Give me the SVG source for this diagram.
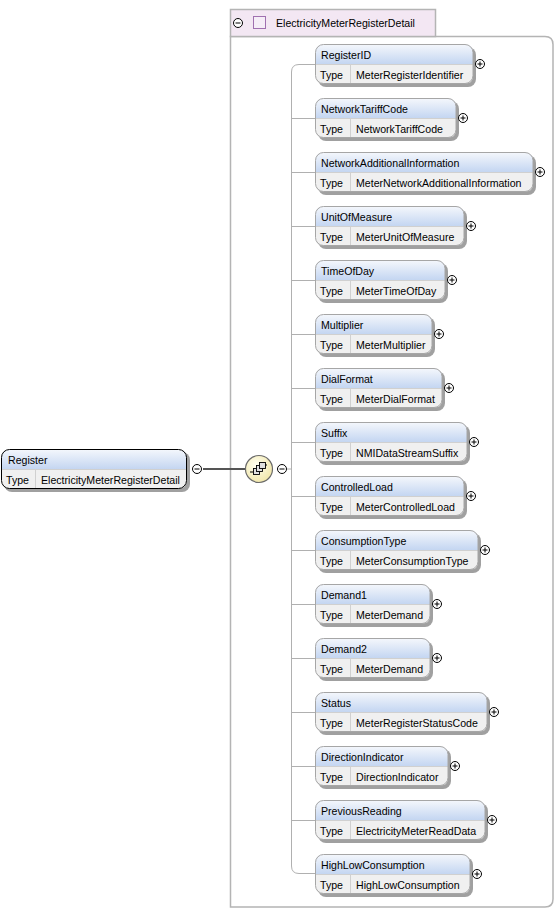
<svg xmlns="http://www.w3.org/2000/svg" width="556" height="910" viewBox="0 0 556 910">
<defs>
<linearGradient id="hdr" x1="0" y1="0" x2="0" y2="1">
<stop offset="0" stop-color="#f4f7fc"/>
<stop offset="1" stop-color="#c3d5f1"/>
</linearGradient>
<radialGradient id="seq" cx="0.4" cy="0.35" r="0.7">
<stop offset="0" stop-color="#fffff0"/>
<stop offset="1" stop-color="#f1e6a8"/>
</radialGradient>
<g id="plus"><circle r="4.5" fill="#fff" stroke="#000" stroke-width="1"/><path d="M-2.5,0H2.5M0,-2.5V2.5" stroke="#000" stroke-width="1"/></g>
<g id="minus"><circle r="4.5" fill="#fff" stroke="#000" stroke-width="1"/><path d="M-2.5,0H2.5" stroke="#000" stroke-width="1"/></g>
</defs>
<style>
text{font-family:"Liberation Sans",Arial,sans-serif;font-size:10.6px;fill:#000}
.shadow{fill:#a0a0a0}
.hdr{fill:url(#hdr)}
.row{fill:#f0f0f0}
.bd{fill:none;stroke:#a6a6a6;stroke-width:1}
.bdk{fill:none;stroke:#000;stroke-width:1}
.conn{fill:none;stroke:#b0b0b0;stroke-width:1}
.sep{stroke:#d0d0d0;stroke-width:1}
</style>

<g id="container">
<path d="M230.5,36.5 H545 Q553,36.5 553,44.5 V899 Q553,907 545,907 H230.5 Z" fill="#fff" stroke="#b4b4b4" stroke-width="1.5"/>
<rect x="230.5" y="9.5" width="205" height="27" fill="#f3e7f3" stroke="#b4b4b4" stroke-width="1.5"/>
<use href="#minus" x="238" y="23"/>
<rect x="253.5" y="16.5" width="12" height="12" fill="#f5edf7" stroke="#a070b0" stroke-width="1"/>
<text x="276" y="27">ElectricityMeterRegisterDetail</text>
</g>

<g id="connectors">
<path d="M203,469 H246" stroke="#555" stroke-width="2" fill="none"/>
<path d="M287,469 H291" class="conn"/>
<path d="M315,64.5 H299 Q291.5,64.5 291.5,72 V866 Q291.5,873.5 299,873.5 H315" class="conn"/>
<path d="M291.5,118.5H315M291.5,172.5H315M291.5,226.5H315M291.5,280.5H315M291.5,334.5H315M291.5,388.5H315M291.5,442.5H315M291.5,496.5H315M291.5,550.5H315M291.5,604.5H315M291.5,658.5H315M291.5,712.5H315M291.5,766.5H315M291.5,820.5H315" class="conn"/>
</g>

<g id="Register">
<rect x="4" y="452" width="186" height="40" rx="8" class="shadow"/>
<path d="M1.5,469.5 V457 Q1.5,449.5 9,449.5 H179 Q186.5,449.5 186.5,457 V469.5 Z" class="hdr"/>
<path d="M1.5,469.5 H186.5 V481 Q186.5,488.5 179,488.5 H9 Q1.5,488.5 1.5,481 Z" class="row"/>
<line x1="35.5" y1="469.5" x2="35.5" y2="488.5" class="sep"/>
<line x1="1.5" y1="469.5" x2="186.5" y2="469.5" class="sep"/>
<rect x="1.5" y="449.5" width="185" height="39" rx="8" class="bdk"/>
<text x="8" y="464">Register</text>
<text x="6" y="484">Type</text>
<text x="41" y="484">ElectricityMeterRegisterDetail</text>
<use href="#minus" x="197" y="469"/>
</g>

<g id="sequence">
<circle cx="259" cy="469" r="13.5" fill="url(#seq)" stroke="#6b6b6b" stroke-width="1.2"/>
<path d="M250,472 H253 M263,465 H267" stroke="#000" stroke-width="1"/>
<rect x="253.5" y="468.5" width="6" height="6" fill="#e0e0e0" stroke="#000" stroke-width="0.9"/>
<rect x="256.5" y="465.5" width="6" height="6" fill="#e0e0e0" stroke="#000" stroke-width="0.9"/>
<rect x="259.5" y="462.5" width="6" height="6" fill="#e0e0e0" stroke="#000" stroke-width="0.9"/>
<use href="#minus" x="282" y="469"/>
</g>

<g id="RegisterID" transform="translate(315,44)">
<rect x="3" y="3" width="158" height="40" rx="8" class="shadow"/>
<path d="M0.5,20.5 V8 Q0.5,0.5 8,0.5 H150.5 Q158,0.5 158,8 V20.5 Z" class="hdr"/>
<path d="M0.5,20.5 H158 V32 Q158,39.5 150.5,39.5 H8 Q0.5,39.5 0.5,32 Z" class="row"/>
<line x1="0.5" y1="20.5" x2="158" y2="20.5" class="sep"/><line x1="35.5" y1="20.5" x2="35.5" y2="39.5" class="sep"/>
<rect x="0.5" y="0.5" width="157.5" height="39" rx="8" class="bd"/>
<text x="6" y="15">RegisterID</text><text x="5" y="35">Type</text><text x="41" y="35">MeterRegisterIdentifier</text>
<use href="#plus" x="165" y="20"/>
</g>

<g id="NetworkTariffCode" transform="translate(315,98)">
<rect x="3" y="3" width="141" height="40" rx="8" class="shadow"/>
<path d="M0.5,20.5 V8 Q0.5,0.5 8,0.5 H133.5 Q141,0.5 141,8 V20.5 Z" class="hdr"/>
<path d="M0.5,20.5 H141 V32 Q141,39.5 133.5,39.5 H8 Q0.5,39.5 0.5,32 Z" class="row"/>
<line x1="0.5" y1="20.5" x2="141" y2="20.5" class="sep"/><line x1="35.5" y1="20.5" x2="35.5" y2="39.5" class="sep"/>
<rect x="0.5" y="0.5" width="140.5" height="39" rx="8" class="bd"/>
<text x="6" y="15">NetworkTariffCode</text><text x="5" y="35">Type</text><text x="41" y="35">NetworkTariffCode</text>
<use href="#plus" x="148" y="20"/>
</g>

<g id="NetworkAdditionalInformation" transform="translate(315,152)">
<rect x="3" y="3" width="218" height="40" rx="8" class="shadow"/>
<path d="M0.5,20.5 V8 Q0.5,0.5 8,0.5 H210.5 Q218,0.5 218,8 V20.5 Z" class="hdr"/>
<path d="M0.5,20.5 H218 V32 Q218,39.5 210.5,39.5 H8 Q0.5,39.5 0.5,32 Z" class="row"/>
<line x1="0.5" y1="20.5" x2="218" y2="20.5" class="sep"/><line x1="35.5" y1="20.5" x2="35.5" y2="39.5" class="sep"/>
<rect x="0.5" y="0.5" width="217.5" height="39" rx="8" class="bd"/>
<text x="6" y="15">NetworkAdditionalInformation</text><text x="5" y="35">Type</text><text x="41" y="35">MeterNetworkAdditionalInformation</text>
<use href="#plus" x="225" y="20"/>
</g>

<g id="UnitOfMeasure" transform="translate(315,206)">
<rect x="3" y="3" width="149" height="40" rx="8" class="shadow"/>
<path d="M0.5,20.5 V8 Q0.5,0.5 8,0.5 H141.5 Q149,0.5 149,8 V20.5 Z" class="hdr"/>
<path d="M0.5,20.5 H149 V32 Q149,39.5 141.5,39.5 H8 Q0.5,39.5 0.5,32 Z" class="row"/>
<line x1="0.5" y1="20.5" x2="149" y2="20.5" class="sep"/><line x1="35.5" y1="20.5" x2="35.5" y2="39.5" class="sep"/>
<rect x="0.5" y="0.5" width="148.5" height="39" rx="8" class="bd"/>
<text x="6" y="15">UnitOfMeasure</text><text x="5" y="35">Type</text><text x="41" y="35">MeterUnitOfMeasure</text>
<use href="#plus" x="156" y="20"/>
</g>

<g id="TimeOfDay" transform="translate(315,260)">
<rect x="3" y="3" width="130" height="40" rx="8" class="shadow"/>
<path d="M0.5,20.5 V8 Q0.5,0.5 8,0.5 H122.5 Q130,0.5 130,8 V20.5 Z" class="hdr"/>
<path d="M0.5,20.5 H130 V32 Q130,39.5 122.5,39.5 H8 Q0.5,39.5 0.5,32 Z" class="row"/>
<line x1="0.5" y1="20.5" x2="130" y2="20.5" class="sep"/><line x1="35.5" y1="20.5" x2="35.5" y2="39.5" class="sep"/>
<rect x="0.5" y="0.5" width="129.5" height="39" rx="8" class="bd"/>
<text x="6" y="15">TimeOfDay</text><text x="5" y="35">Type</text><text x="41" y="35">MeterTimeOfDay</text>
<use href="#plus" x="137" y="20"/>
</g>

<g id="Multiplier" transform="translate(315,314)">
<rect x="3" y="3" width="117" height="40" rx="8" class="shadow"/>
<path d="M0.5,20.5 V8 Q0.5,0.5 8,0.5 H109.5 Q117,0.5 117,8 V20.5 Z" class="hdr"/>
<path d="M0.5,20.5 H117 V32 Q117,39.5 109.5,39.5 H8 Q0.5,39.5 0.5,32 Z" class="row"/>
<line x1="0.5" y1="20.5" x2="117" y2="20.5" class="sep"/><line x1="35.5" y1="20.5" x2="35.5" y2="39.5" class="sep"/>
<rect x="0.5" y="0.5" width="116.5" height="39" rx="8" class="bd"/>
<text x="6" y="15">Multiplier</text><text x="5" y="35">Type</text><text x="41" y="35">MeterMultiplier</text>
<use href="#plus" x="124" y="20"/>
</g>

<g id="DialFormat" transform="translate(315,368)">
<rect x="3" y="3" width="127" height="40" rx="8" class="shadow"/>
<path d="M0.5,20.5 V8 Q0.5,0.5 8,0.5 H119.5 Q127,0.5 127,8 V20.5 Z" class="hdr"/>
<path d="M0.5,20.5 H127 V32 Q127,39.5 119.5,39.5 H8 Q0.5,39.5 0.5,32 Z" class="row"/>
<line x1="0.5" y1="20.5" x2="127" y2="20.5" class="sep"/><line x1="35.5" y1="20.5" x2="35.5" y2="39.5" class="sep"/>
<rect x="0.5" y="0.5" width="126.5" height="39" rx="8" class="bd"/>
<text x="6" y="15">DialFormat</text><text x="5" y="35">Type</text><text x="41" y="35">MeterDialFormat</text>
<use href="#plus" x="134" y="20"/>
</g>

<g id="Suffix" transform="translate(315,422)">
<rect x="3" y="3" width="152" height="40" rx="8" class="shadow"/>
<path d="M0.5,20.5 V8 Q0.5,0.5 8,0.5 H144.5 Q152,0.5 152,8 V20.5 Z" class="hdr"/>
<path d="M0.5,20.5 H152 V32 Q152,39.5 144.5,39.5 H8 Q0.5,39.5 0.5,32 Z" class="row"/>
<line x1="0.5" y1="20.5" x2="152" y2="20.5" class="sep"/><line x1="35.5" y1="20.5" x2="35.5" y2="39.5" class="sep"/>
<rect x="0.5" y="0.5" width="151.5" height="39" rx="8" class="bd"/>
<text x="6" y="15">Suffix</text><text x="5" y="35">Type</text><text x="41" y="35">NMIDataStreamSuffix</text>
<use href="#plus" x="159" y="20"/>
</g>

<g id="ControlledLoad" transform="translate(315,476)">
<rect x="3" y="3" width="149" height="40" rx="8" class="shadow"/>
<path d="M0.5,20.5 V8 Q0.5,0.5 8,0.5 H141.5 Q149,0.5 149,8 V20.5 Z" class="hdr"/>
<path d="M0.5,20.5 H149 V32 Q149,39.5 141.5,39.5 H8 Q0.5,39.5 0.5,32 Z" class="row"/>
<line x1="0.5" y1="20.5" x2="149" y2="20.5" class="sep"/><line x1="35.5" y1="20.5" x2="35.5" y2="39.5" class="sep"/>
<rect x="0.5" y="0.5" width="148.5" height="39" rx="8" class="bd"/>
<text x="6" y="15">ControlledLoad</text><text x="5" y="35">Type</text><text x="41" y="35">MeterControlledLoad</text>
<use href="#plus" x="156" y="20"/>
</g>

<g id="ConsumptionType" transform="translate(315,530)">
<rect x="3" y="3" width="163" height="40" rx="8" class="shadow"/>
<path d="M0.5,20.5 V8 Q0.5,0.5 8,0.5 H155.5 Q163,0.5 163,8 V20.5 Z" class="hdr"/>
<path d="M0.5,20.5 H163 V32 Q163,39.5 155.5,39.5 H8 Q0.5,39.5 0.5,32 Z" class="row"/>
<line x1="0.5" y1="20.5" x2="163" y2="20.5" class="sep"/><line x1="35.5" y1="20.5" x2="35.5" y2="39.5" class="sep"/>
<rect x="0.5" y="0.5" width="162.5" height="39" rx="8" class="bd"/>
<text x="6" y="15">ConsumptionType</text><text x="5" y="35">Type</text><text x="41" y="35">MeterConsumptionType</text>
<use href="#plus" x="170" y="20"/>
</g>

<g id="Demand1" transform="translate(315,584)">
<rect x="3" y="3" width="115" height="40" rx="8" class="shadow"/>
<path d="M0.5,20.5 V8 Q0.5,0.5 8,0.5 H107.5 Q115,0.5 115,8 V20.5 Z" class="hdr"/>
<path d="M0.5,20.5 H115 V32 Q115,39.5 107.5,39.5 H8 Q0.5,39.5 0.5,32 Z" class="row"/>
<line x1="0.5" y1="20.5" x2="115" y2="20.5" class="sep"/><line x1="35.5" y1="20.5" x2="35.5" y2="39.5" class="sep"/>
<rect x="0.5" y="0.5" width="114.5" height="39" rx="8" class="bd"/>
<text x="6" y="15">Demand1</text><text x="5" y="35">Type</text><text x="41" y="35">MeterDemand</text>
<use href="#plus" x="122" y="20"/>
</g>

<g id="Demand2" transform="translate(315,638)">
<rect x="3" y="3" width="115" height="40" rx="8" class="shadow"/>
<path d="M0.5,20.5 V8 Q0.5,0.5 8,0.5 H107.5 Q115,0.5 115,8 V20.5 Z" class="hdr"/>
<path d="M0.5,20.5 H115 V32 Q115,39.5 107.5,39.5 H8 Q0.5,39.5 0.5,32 Z" class="row"/>
<line x1="0.5" y1="20.5" x2="115" y2="20.5" class="sep"/><line x1="35.5" y1="20.5" x2="35.5" y2="39.5" class="sep"/>
<rect x="0.5" y="0.5" width="114.5" height="39" rx="8" class="bd"/>
<text x="6" y="15">Demand2</text><text x="5" y="35">Type</text><text x="41" y="35">MeterDemand</text>
<use href="#plus" x="122" y="20"/>
</g>

<g id="Status" transform="translate(315,692)">
<rect x="3" y="3" width="172" height="40" rx="8" class="shadow"/>
<path d="M0.5,20.5 V8 Q0.5,0.5 8,0.5 H164.5 Q172,0.5 172,8 V20.5 Z" class="hdr"/>
<path d="M0.5,20.5 H172 V32 Q172,39.5 164.5,39.5 H8 Q0.5,39.5 0.5,32 Z" class="row"/>
<line x1="0.5" y1="20.5" x2="172" y2="20.5" class="sep"/><line x1="35.5" y1="20.5" x2="35.5" y2="39.5" class="sep"/>
<rect x="0.5" y="0.5" width="171.5" height="39" rx="8" class="bd"/>
<text x="6" y="15">Status</text><text x="5" y="35">Type</text><text x="41" y="35">MeterRegisterStatusCode</text>
<use href="#plus" x="179" y="20"/>
</g>

<g id="DirectionIndicator" transform="translate(315,746)">
<rect x="3" y="3" width="133" height="40" rx="8" class="shadow"/>
<path d="M0.5,20.5 V8 Q0.5,0.5 8,0.5 H125.5 Q133,0.5 133,8 V20.5 Z" class="hdr"/>
<path d="M0.5,20.5 H133 V32 Q133,39.5 125.5,39.5 H8 Q0.5,39.5 0.5,32 Z" class="row"/>
<line x1="0.5" y1="20.5" x2="133" y2="20.5" class="sep"/><line x1="35.5" y1="20.5" x2="35.5" y2="39.5" class="sep"/>
<rect x="0.5" y="0.5" width="132.5" height="39" rx="8" class="bd"/>
<text x="6" y="15">DirectionIndicator</text><text x="5" y="35">Type</text><text x="41" y="35">DirectionIndicator</text>
<use href="#plus" x="140" y="20"/>
</g>

<g id="PreviousReading" transform="translate(315,800)">
<rect x="3" y="3" width="170" height="40" rx="8" class="shadow"/>
<path d="M0.5,20.5 V8 Q0.5,0.5 8,0.5 H162.5 Q170,0.5 170,8 V20.5 Z" class="hdr"/>
<path d="M0.5,20.5 H170 V32 Q170,39.5 162.5,39.5 H8 Q0.5,39.5 0.5,32 Z" class="row"/>
<line x1="0.5" y1="20.5" x2="170" y2="20.5" class="sep"/><line x1="35.5" y1="20.5" x2="35.5" y2="39.5" class="sep"/>
<rect x="0.5" y="0.5" width="169.5" height="39" rx="8" class="bd"/>
<text x="6" y="15">PreviousReading</text><text x="5" y="35">Type</text><text x="41" y="35">ElectricityMeterReadData</text>
<use href="#plus" x="177" y="20"/>
</g>

<g id="HighLowConsumption" transform="translate(315,854)">
<rect x="3" y="3" width="155" height="40" rx="8" class="shadow"/>
<path d="M0.5,20.5 V8 Q0.5,0.5 8,0.5 H147.5 Q155,0.5 155,8 V20.5 Z" class="hdr"/>
<path d="M0.5,20.5 H155 V32 Q155,39.5 147.5,39.5 H8 Q0.5,39.5 0.5,32 Z" class="row"/>
<line x1="0.5" y1="20.5" x2="155" y2="20.5" class="sep"/><line x1="35.5" y1="20.5" x2="35.5" y2="39.5" class="sep"/>
<rect x="0.5" y="0.5" width="154.5" height="39" rx="8" class="bd"/>
<text x="6" y="15">HighLowConsumption</text><text x="5" y="35">Type</text><text x="41" y="35">HighLowConsumption</text>
<use href="#plus" x="162" y="20"/>
</g>
</svg>
